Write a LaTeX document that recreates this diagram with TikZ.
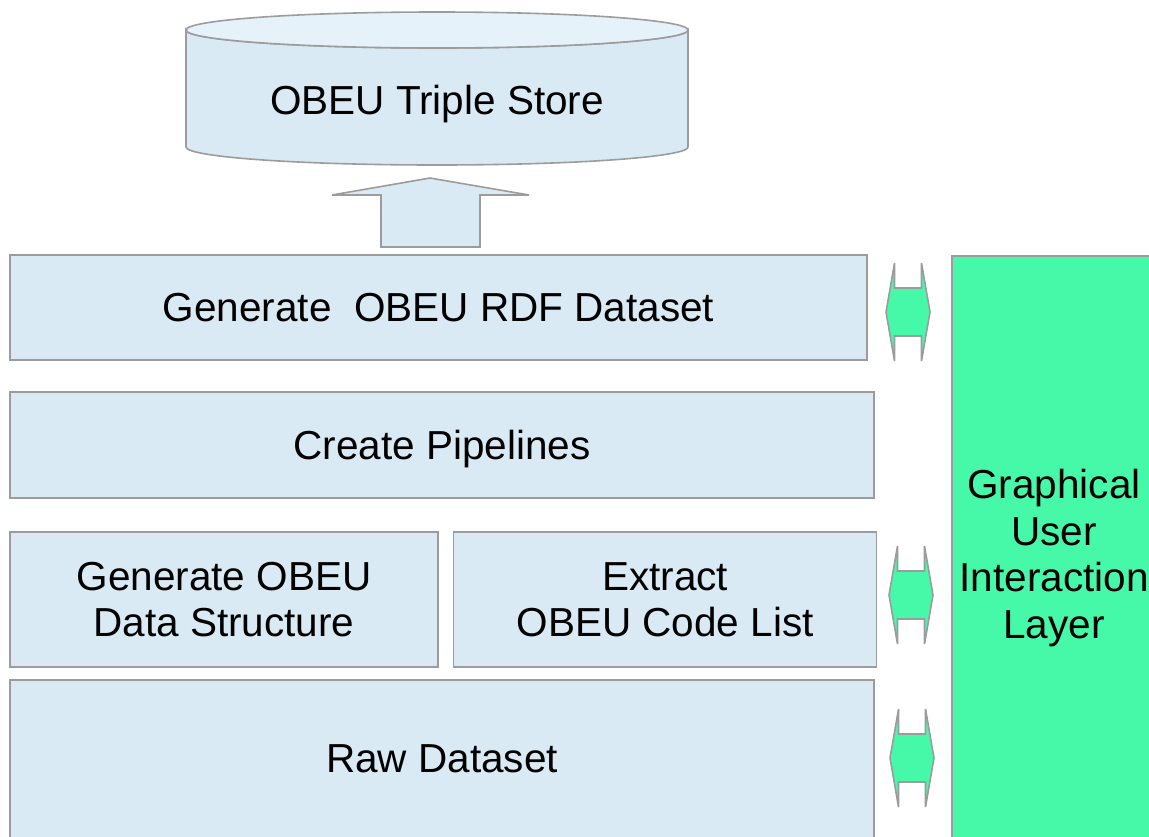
\documentclass[tikz,border=0pt]{standalone}
\usepackage{fontspec}
\setmainfont{Liberation Sans}
\usepackage{tikz}
\usetikzlibrary{positioning}
\usepackage{xcolor}
\definecolor{paleblue}{HTML}{D9EAF4}
\definecolor{lidblue}{HTML}{E6F2F9}
\definecolor{edge}{HTML}{9C9C9C}
\definecolor{mint}{HTML}{45F9A9}
\tikzset{layer/.style={draw=edge,line width=.8pt,fill=paleblue,inner sep=0pt,text depth=0pt,align=center,font=\fontsize{20.25}{23.25}\selectfont},gui/.style={draw=edge,line width=.8pt,fill=mint,inner sep=0pt,text depth=0pt,align=center,font=\fontsize{20.25}{23.25}\selectfont},drum/.style={draw=edge,line width=.8pt,fill=paleblue},lid/.style={draw=edge,line width=.8pt,fill=lidblue},link/.style={draw=edge,line width=.8pt,fill=mint},lift/.style={draw=edge,line width=.8pt,fill=paleblue}}

\begin{document}
\begin{tikzpicture}[x=.5pt,y=-.5pt]
\useasboundingbox (0,0) rectangle (1149,836);
% triple store drum
\draw[drum] (186,30) -- (186,147) arc[start angle=180,end angle=0,x radius=251,y radius=18] -- (688,30) arc[start angle=0,end angle=180,x radius=251,y radius=18] -- cycle;
\draw[lid] (437,30) ellipse[x radius=251,y radius=18];
\node[text depth=0pt,font=\fontsize{20.25}{23.25}\selectfont] (store) at (437,100) {OBEU Triple Store};
% layers
\node[layer,minimum width=428.5pt,minimum height=52.5pt] (rdf) at (438.5,307.5) {Generate\ \ OBEU RDF Dataset};
\node[layer,minimum width=432pt,minimum height=53pt] (pipe) at (442,445) {Create Pipelines};
\node[layer,minimum width=214pt,minimum height=67.5pt] (struct) at (224,599.5) {Generate OBEU\\Data Structure};
\node[layer,right=7pt of struct,minimum width=211.5pt,minimum height=67.5pt] (codes) {Extract\\OBEU Code List};
\node[layer,minimum width=432pt,minimum height=79pt] (raw) at (442,759) {Raw Dataset};
\node[gui,minimum width=102pt,minimum height=298pt] (ui) at (1054,554) {Graphical\\User\\Interaction\\Layer};
% block arrows
\draw[lift] (381,247) -- (381,195) -- (332,195) -- (430,178) -- (529,195) -- (480,195) -- (480,247) -- cycle;
\foreach \cx/\cy in {908/312,911/595,912/758}
  \draw[link] (\cx-22,\cy) -- (\cx-13.5,\cy-49) -- (\cx-13.5,\cy-24) -- (\cx+13.5,\cy-24) -- (\cx+13.5,\cy-49) -- (\cx+22,\cy) -- (\cx+13.5,\cy+49) -- (\cx+13.5,\cy+24) -- (\cx-13.5,\cy+24) -- (\cx-13.5,\cy+49) -- cycle;
\end{tikzpicture}
\end{document}
